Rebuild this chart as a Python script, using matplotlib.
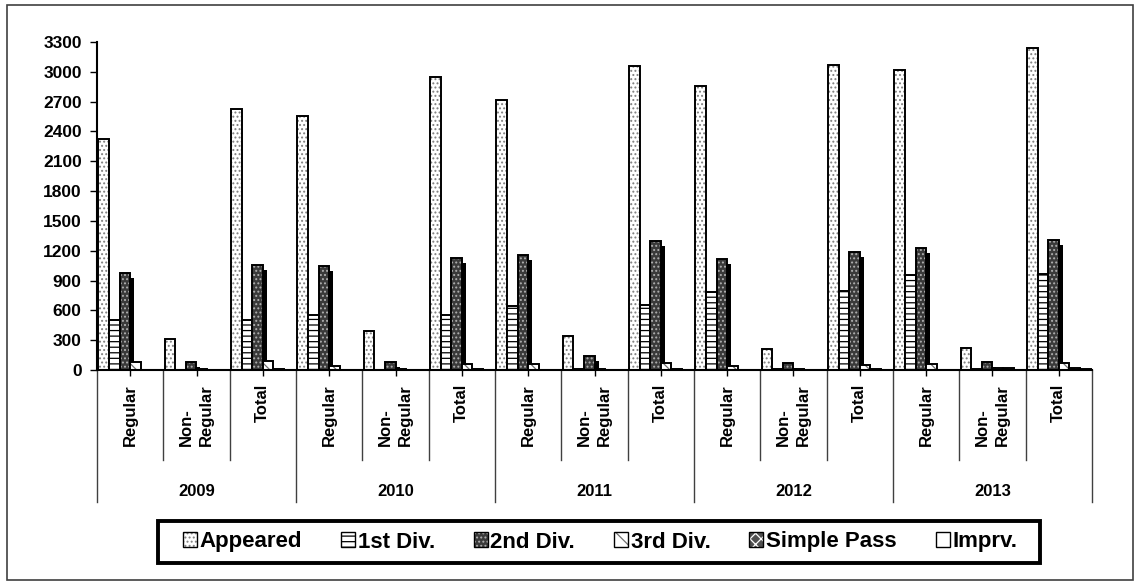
import matplotlib
matplotlib.use('Agg')
import matplotlib.pyplot as plt
import matplotlib.transforms as mtransforms
from matplotlib.patches import Patch, Rectangle

# Data
years = ['2009', '2010', '2011', '2012', '2013']
kinds = ['Regular', 'Non-\nRegular', 'Total']
series_names = ['Appeared', '1st Div.', '2nd Div.', '3rd Div.', 'Simple Pass', 'Imprv.']

appeared = [2320, 310, 2630, 2560, 390, 2945, 2720, 340, 3060, 2860, 210, 3070, 3020, 220, 3240]
first_div = [500, 5, 500, 550, 5, 555, 640, 10, 650, 780, 10, 790, 960, 15, 970]
second_div = [975, 80, 1055, 1045, 85, 1130, 1160, 145, 1300, 1120, 70, 1185, 1225, 85, 1310]
third_div = [85, 15, 95, 45, 15, 60, 65, 15, 75, 40, 10, 50, 60, 20, 70]
simple_pass = [5, 3, 8, 5, 5, 10, 5, 5, 10, 5, 5, 10, 5, 20, 25]
imprv = [2, 1, 3, 2, 1, 3, 2, 1, 3, 2, 1, 3, 2, 5, 10]

y_ticks = list(range(0, 3301, 300))

plt.rcParams['font.family'] = ['Liberation Sans', 'DejaVu Sans']
plt.rcParams['font.weight'] = 'bold'
plt.rcParams['hatch.linewidth'] = 0.9

W, H = 1139, 582
fig = plt.figure(figsize=(W / 100, H / 100), dpi=100)
ax = fig.add_axes([97 / W, 212 / H, 995 / W, 328 / H])

all_series = [appeared, first_div, second_div, third_div, simple_pass, imprv]
# (face colour, hatch colour, hatch)
styles = [
    ('white', '#808080', '....'),
    ('white', 'black', '---'),
    ('#3a3a3a', '#b0b0b0', '....'),
    ('white', '#707070', '\\\\'),
    ('#505050', 'white', 'xxx'),
    ('white', 'white', ''),
]

n_cat = len(years) * len(kinds)
xs = list(range(n_cat))
bar_w = 0.16
shadow_tr = mtransforms.offset_copy(ax.transData, fig=fig, x=4, y=-5, units='dots')
handles = []
for i, (vals, (fc, hc, hatch)) in enumerate(zip(all_series, styles)):
    pos = [x + (i - 2.5) * bar_w for x in xs]
    if i == 2:
        # 2nd Div. bars carry a solid drop shadow
        shadow = ax.bar(pos, vals, width=bar_w, color='black', linewidth=0, zorder=1.95 + i * 0.1)
        for b in shadow:
            b.set_transform(shadow_tr)
    ax.bar(pos, vals, width=bar_w, color=fc, edgecolor=hc, hatch=hatch, linewidth=0, zorder=2 + i * 0.1)
    ax.bar(pos, vals, width=bar_w, fill=False, edgecolor='black', linewidth=1.4, zorder=2.05 + i * 0.1)
    h1 = Patch(facecolor=fc, edgecolor=hc, hatch=hatch, linewidth=0)
    h2 = Patch(fill=False, edgecolor='black', linewidth=1.0)
    handles.append((h1, h2))

ax.set_xlim(-0.5, n_cat - 0.5)
ax.set_ylim(0, 3300)
ax.set_yticks(y_ticks)
ax.set_yticklabels([str(v) for v in y_ticks], fontsize=12.5, fontweight='bold')
ax.set_xticks(xs)
ax.set_xticklabels([])
ax.tick_params(axis='y', direction='out', length=5, width=1, pad=6)
ax.tick_params(axis='x', direction='out', length=4, width=1)

for side in ['top', 'right']:
    ax.spines[side].set_visible(False)
for side in ['left', 'bottom']:
    ax.spines[side].set_linewidth(1.5)

# Two-level category axis
trans = mtransforms.blended_transform_factory(ax.transData, ax.transAxes)
for k in range(n_cat + 1):
    low = -132 / 328 if k % 3 == 0 else -90 / 328
    ax.plot([k - 0.5, k - 0.5], [0, low], color='#404040', lw=1, transform=trans, clip_on=False)

for j, x in enumerate(xs):
    ax.text(x, -14 / 328, kinds[j % 3], rotation=90, ha='center', va='top', multialignment='left',
            linespacing=1.45, fontsize=12, fontweight='bold', transform=trans)

for g, yr in enumerate(years):
    ax.text(g * 3 + 1, -121 / 328, yr, ha='center', va='center', fontsize=12, fontweight='bold', transform=trans)

leg = fig.legend(handles, series_names, loc='center', bbox_to_anchor=(600 / W, 40 / H), ncol=6,
                 frameon=False, handlelength=0.63, handleheight=0.63, handletextpad=0.12,
                 columnspacing=1.75, borderpad=0.2, prop={'weight': 'bold', 'size': 16})

# legend box
fig.patches.append(Rectangle((158 / W, 19 / H), 882 / W, 42 / H, transform=fig.transFigure,
                             fill=False, edgecolor='black', linewidth=2.8))

# outer border
fig.patches.append(Rectangle((7 / W, 2 / H), 1126 / W, 575 / H, transform=fig.transFigure,
                             fill=False, edgecolor='#404040', linewidth=1.2))

plt.savefig('out.png', dpi=100)
